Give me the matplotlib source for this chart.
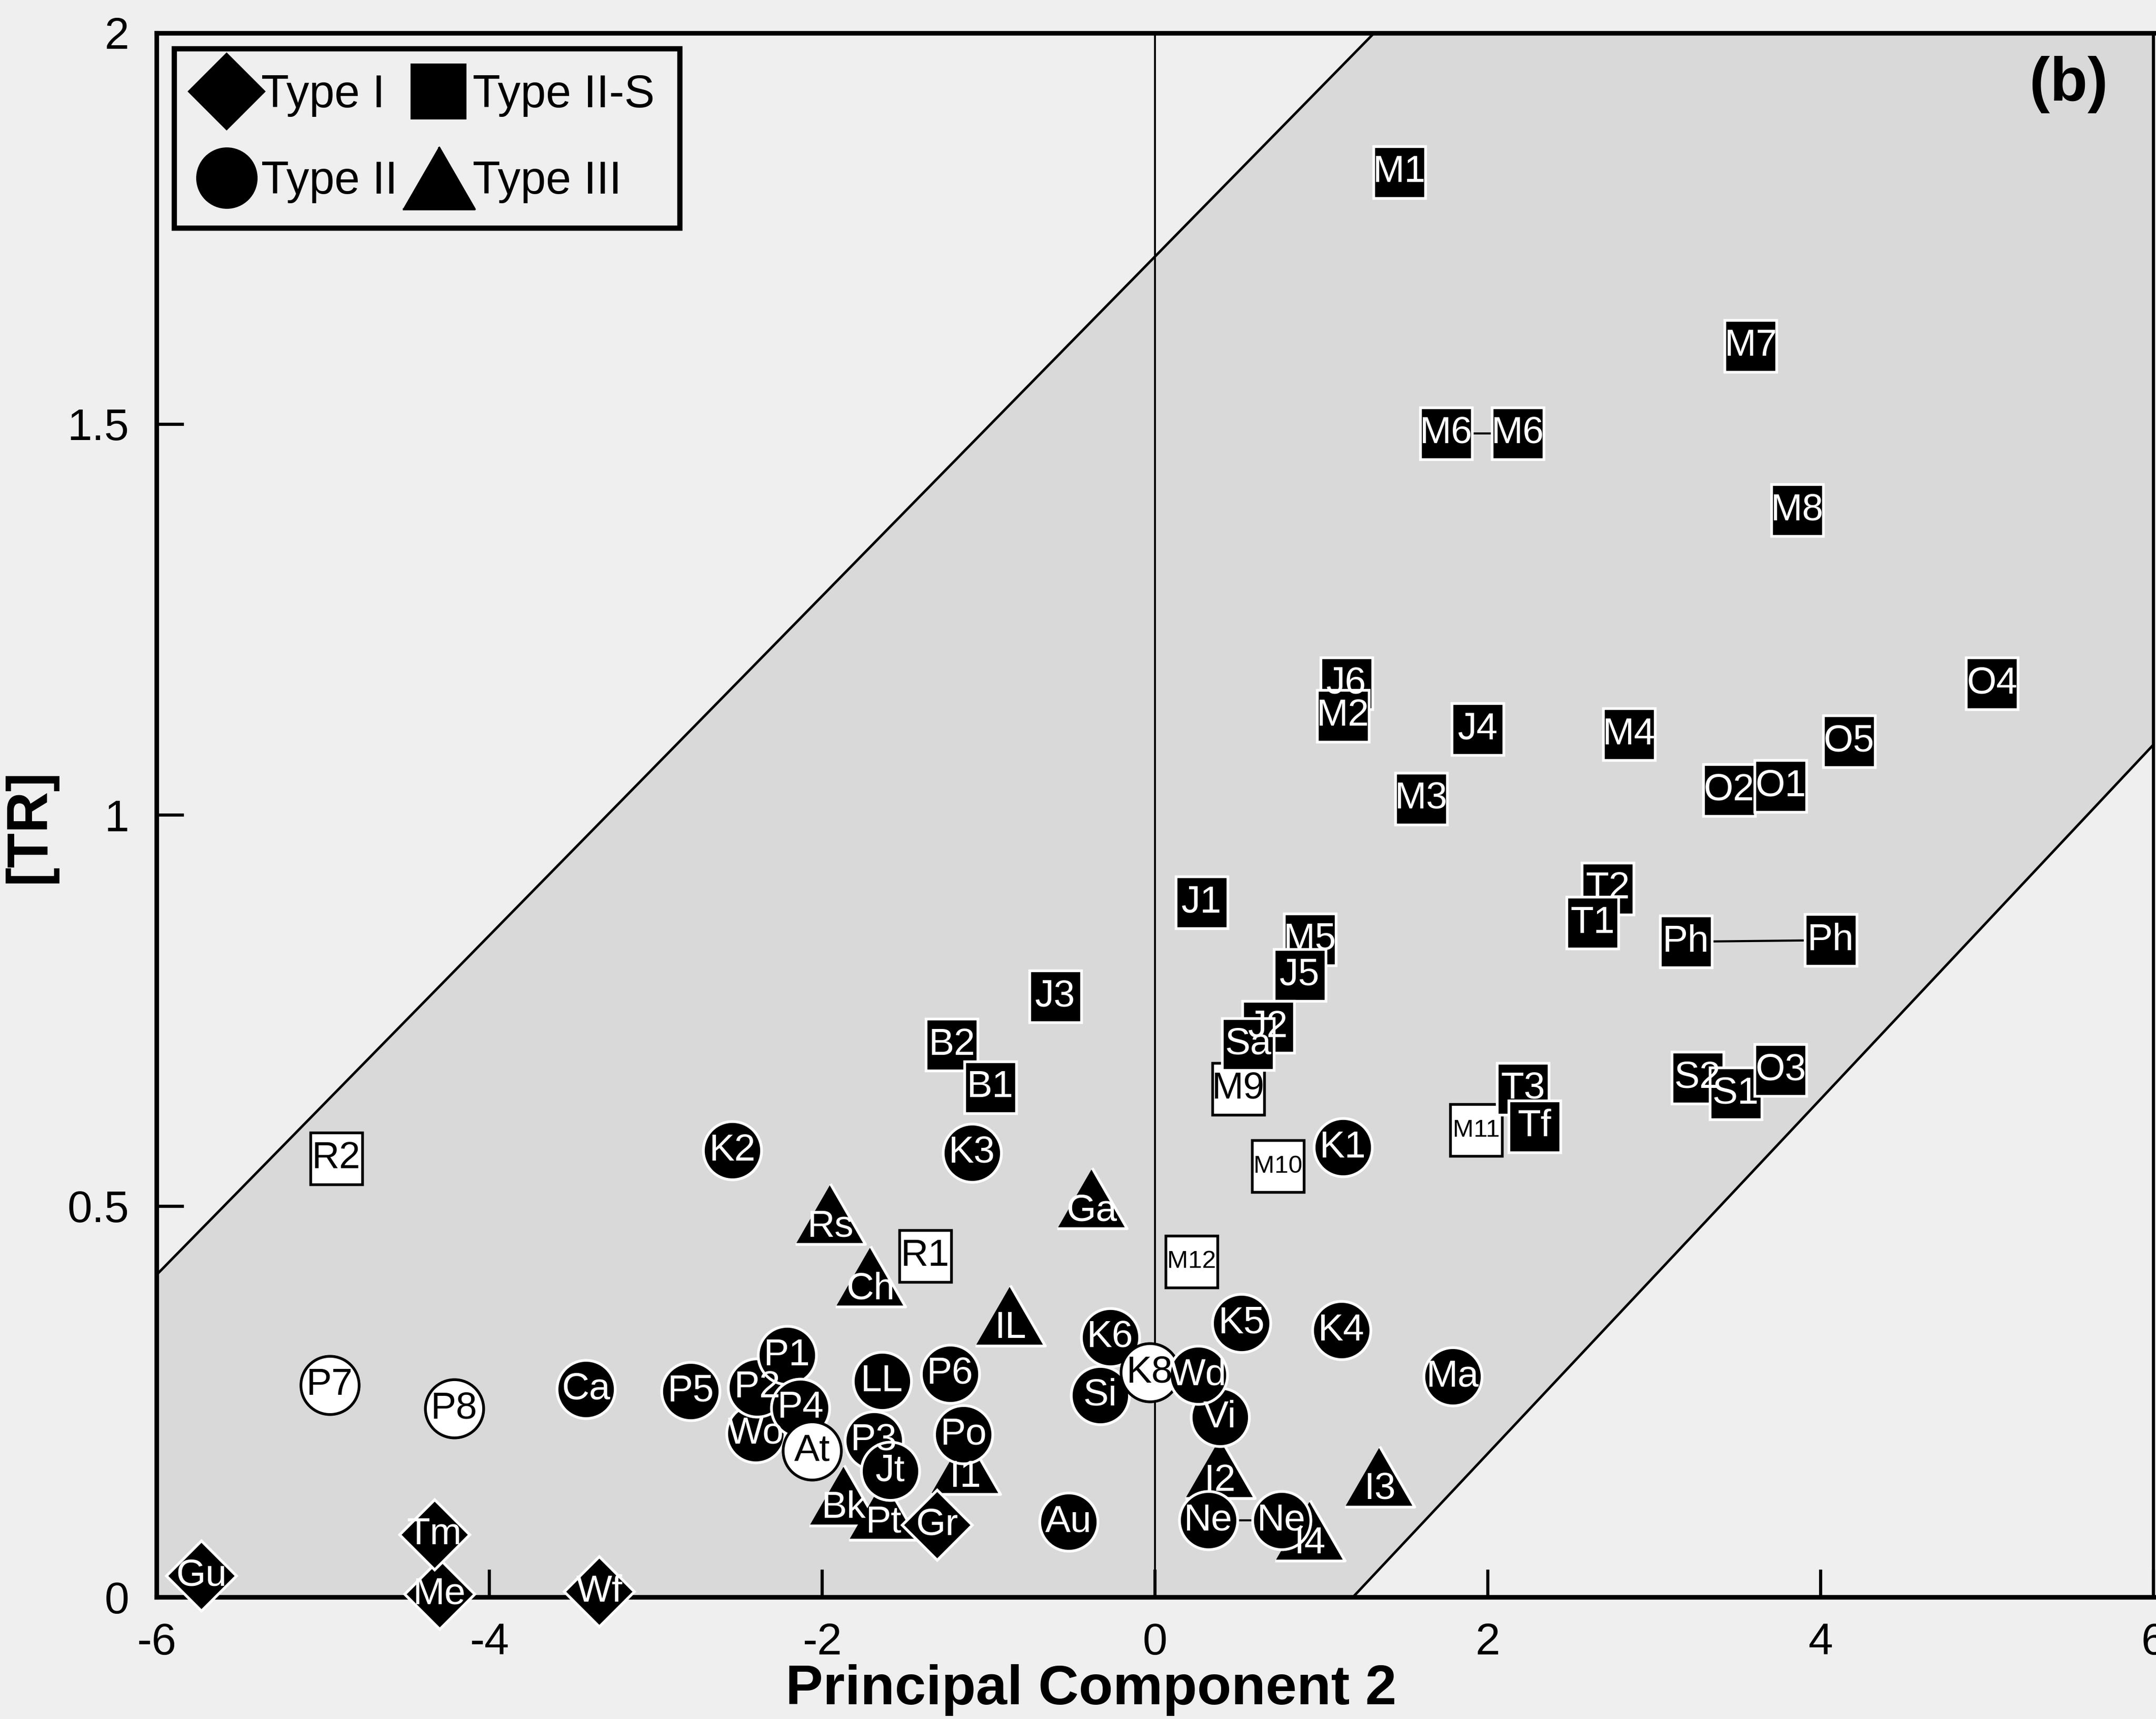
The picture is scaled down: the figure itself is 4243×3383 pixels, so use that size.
import matplotlib.pyplot as plt
from matplotlib.lines import Line2D

plt.rcParams['font.family'] = ['Liberation Sans', 'DejaVu Sans']

# Type II-S samples (squares); filled = 1, open = 0
sq_names = ['R2', 'R1', 'M9', 'M10', 'M11', 'M12', 'M1', 'M7', 'M6', 'M6', 'M8',
            'J6', 'M2', 'J4', 'M4', 'O4', 'O5', 'O2', 'O1', 'M3', 'J1', 'T2', 'T1',
            'Ph', 'Ph', 'M5', 'J5', 'J2', 'Sa', 'S2', 'S1', 'O3', 'T3', 'Tf',
            'B2', 'B1', 'J3']
sq_x = [-4.92, -1.38, 0.50, 0.74, 1.93, 0.22, 1.47, 3.58, 1.75, 2.18, 3.86,
        1.15, 1.13, 1.94, 2.85, 5.03, 4.17, 3.45, 3.76, 1.60, 0.28, 2.72, 2.63,
        3.19, 4.06, 0.93, 0.87, 0.68, 0.56, 3.26, 3.49, 3.76, 2.21, 2.28,
        -1.22, -0.99, -0.60]
sq_y = [0.561, 0.436, 0.650, 0.551, 0.597, 0.429, 1.822, 1.600, 1.488, 1.488, 1.390,
        1.168, 1.127, 1.110, 1.103, 1.168, 1.094, 1.032, 1.037, 1.021, 0.888, 0.906, 0.862,
        0.838, 0.840, 0.841, 0.795, 0.729, 0.707, 0.664, 0.644, 0.674, 0.650, 0.602,
        0.706, 0.652, 0.768]
sq_filled = [0, 0, 0, 0, 0, 0, 1, 1, 1, 1, 1,
             1, 1, 1, 1, 1, 1, 1, 1, 1, 1, 1, 1,
             1, 1, 1, 1, 1, 1, 1, 1, 1, 1, 1,
             1, 1, 1]

# Type II samples (circles)
ci_names = ['P7', 'P8', 'Ca', 'P5', 'Wo', 'P2', 'P1', 'P4', 'At', 'P3', 'Jt', 'LL',
            'P6', 'Po', 'K2', 'K3', 'Au', 'K6', 'Si', 'K8', 'Vi', 'Wd', 'K5', 'K4',
            'Ma', 'K1', 'Ne', 'Ne']
ci_x = [-4.96, -4.21, -3.42, -2.79, -2.40, -2.39, -2.21, -2.13, -2.06, -1.69, -1.59, -1.64,
        -1.23, -1.15, -2.54, -1.10, -0.52, -0.27, -0.33, -0.03, 0.39, 0.26, 0.52, 1.12,
        1.79, 1.13, 0.32, 0.76]
ci_y = [0.271, 0.241, 0.266, 0.263, 0.209, 0.268, 0.309, 0.242, 0.187, 0.200, 0.161, 0.276,
        0.285, 0.208, 0.571, 0.568, 0.096, 0.332, 0.258, 0.287, 0.230, 0.284, 0.350, 0.341,
        0.282, 0.575, 0.098, 0.098]
ci_filled = [0, 0, 1, 1, 1, 1, 1, 1, 0, 1, 1, 1,
             1, 1, 1, 1, 1, 1, 1, 0, 1, 1, 1, 1,
             1, 1, 1, 1]

# Type III samples (triangles)
tr_names = ['Rs', 'Ch', 'Ga', 'IL', 'I1', 'Bk', 'Pt', 'I2', 'I3', 'I4']
tr_x = [-1.95, -1.71, -0.38, -0.87, -1.14, -1.87, -1.63, 0.39, 1.35, 0.93]
tr_y = [0.490, 0.410, 0.510, 0.360, 0.170, 0.130, 0.112, 0.165, 0.154, 0.085]

# Type I samples (diamonds)
di_names = ['Gu', 'Me', 'Tm', 'Wf', 'Gr']
di_x = [-5.73, -4.30, -4.33, -3.34, -1.31]
di_y = [0.027, 0.004, 0.080, 0.007, 0.092]

# pairs joined by a line
pairs_x = [[1.75, 2.18], [3.19, 4.06], [0.32, 0.76]]
pairs_y = [[1.488, 1.488], [0.838, 0.840], [0.098, 0.098]]

# boundary lines of the shaded band
upper_x = [-6, 1.317]
upper_y = [0.412, 2.0]
lower_x = [1.19, 6]
lower_y = [0.0, 1.09]

bg = '#efefef'
shade = '#d9d9d9'
tri_marker = [(-1, -0.866), (1, -0.866), (0, 0.866)]
label_font = ['Liberation Sans Narrow', 'Liberation Sans', 'DejaVu Sans']

fig = plt.figure(figsize=(4243 / 300, 3383 / 300), dpi=300, facecolor=bg)
ax = fig.add_axes([308 / 4243, 240 / 3383, (4238 - 308) / 4243, 3078 / 3383])
ax.set_facecolor(bg)
ax.set_xlim(-6, 6)
ax.set_ylim(0, 2)

band_x = [-6, upper_x[0], upper_x[1], 6, lower_x[1], lower_x[0]]
band_y = [0, upper_y[0], upper_y[1], 2, lower_y[1], lower_y[0]]
ax.fill(band_x, band_y, color=shade, lw=0, zorder=0)
ax.plot(upper_x, upper_y, color='black', lw=1.2, zorder=1)
ax.plot(lower_x, lower_y, color='black', lw=1.2, zorder=1)
ax.axvline(0, color='black', lw=0.9, zorder=1)

for px, py in zip(pairs_x, pairs_y):
    ax.plot(px, py, color='black', lw=1.0, zorder=2)


def draw_points(names, xs, ys, filled, marker, ms, z, dy=0.0, fs=18):
    for n, x, y, f in zip(names, xs, ys, filled):
        fc = 'black' if f else 'white'
        ec = 'white' if f else 'black'
        ax.plot(x, y, marker=marker, ms=ms, mfc=fc, mec=ec, mew=1.3,
                ls='none', zorder=z, clip_on=False)
        size = fs if len(n) < 3 else fs * 0.66
        ax.annotate(n, (x, y), xytext=(0, dy), textcoords='offset points',
                    ha='center', va='center', fontsize=size, family=label_font,
                    color='white' if f else 'black', zorder=z + 100,
                    annotation_clip=False)
        z += 1
    return z


z = 3
z = draw_points(tr_names, tr_x, tr_y, [1] * len(tr_names), tri_marker, 33, z, dy=-6)
z = draw_points(ci_names, ci_x, ci_y, ci_filled, 'o', 27.5, z)
z = draw_points(sq_names, sq_x, sq_y, sq_filled, 's', 24.5, z)
z = draw_points(di_names, di_x, di_y, [1] * len(di_names), 'D', 23.5, z)

ax.text(5.49, 1.934, '(b)', fontsize=29, fontweight='bold', ha='center', va='center')

# axes styling
ax.set_xticks([-6, -4, -2, 0, 2, 4, 6])
ax.set_xticklabels(['-6', '-4', '-2', '0', '2', '4', '6'])
ax.set_yticks([0, 0.5, 1, 1.5, 2])
ax.set_yticklabels(['0', '0.5', '1', '1.5', '2'])
ax.tick_params(direction='in', length=13, width=1.5, labelsize=21)
ax.tick_params(axis='x', pad=12)
ax.tick_params(axis='y', pad=13)
for side in ['left', 'bottom', 'top']:
    ax.spines[side].set_linewidth(2.2)
ax.spines['right'].set_linewidth(1.5)

ax.set_xlabel('Principal Component 2', fontsize=26.5, fontweight='bold')
ax.xaxis.set_label_coords(0.468, -0.043)
ax.set_ylabel('[TR]', fontsize=27, fontweight='bold')
ax.yaxis.set_label_coords(-0.05, 0.493)

handles = [
    Line2D([], [], marker='D', ms=25, mfc='black', mec='black', ls='none'),
    Line2D([], [], marker='o', ms=28, mfc='black', mec='black', ls='none'),
    Line2D([], [], marker='s', ms=25.5, mfc='black', mec='black', ls='none'),
    Line2D([], [], marker=tri_marker, ms=34, mfc='black', mec='black', ls='none'),
]
labels = ['Type I', 'Type II', 'Type II-S', 'Type III']
leg = ax.legend(handles, labels, ncol=2, loc='upper left', bbox_to_anchor=(0.009, 0.99),
                frameon=True, fancybox=False, edgecolor='black', facecolor=bg,
                framealpha=1, fontsize=21.5, handlelength=1.2, handletextpad=0.15,
                columnspacing=0.3, labelspacing=0.95, borderpad=0.55, borderaxespad=0)
leg.get_frame().set_linewidth(2.5)
leg.set_zorder(300)

fig.savefig('out.png', dpi=300, facecolor=bg)
